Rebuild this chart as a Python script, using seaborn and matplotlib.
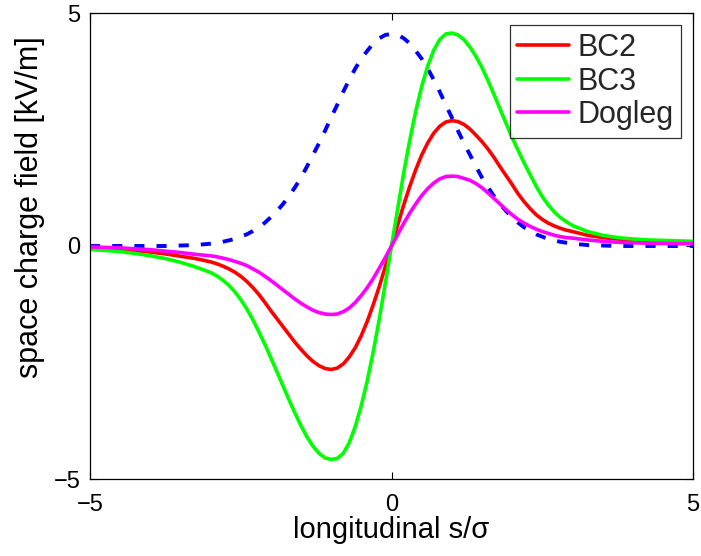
import matplotlib
matplotlib.use("Agg")
import matplotlib.pyplot as plt
import seaborn as sns
import pandas as pd

s = [-5.0, -4.75, -4.5, -4.25, -4.0, -3.75, -3.5, -3.25,
     -3.0, -2.9, -2.8, -2.7, -2.6, -2.5, -2.4, -2.3, -2.2, -2.1,
     -2.0, -1.9, -1.8, -1.7, -1.6, -1.5, -1.4, -1.3, -1.2, -1.1,
     -1.0, -0.9, -0.8, -0.7, -0.6, -0.5, -0.4, -0.3, -0.2, -0.1,
     0.0, 0.1, 0.2, 0.3, 0.4, 0.5, 0.6, 0.7, 0.8, 0.9,
     1.0, 1.1, 1.2, 1.3, 1.4, 1.5, 1.6, 1.7, 1.8, 1.9,
     2.0, 2.1, 2.2, 2.3, 2.4, 2.5, 2.6, 2.7, 2.8, 2.9,
     3.0, 3.25, 3.5, 3.75, 4.0, 4.25, 4.5, 4.75, 5.0]

bunch = [0.0, 0.0, 0.0, 0.0, 0.0, 0.0, 0.01, 0.02,
         0.05, 0.07, 0.09, 0.12, 0.15, 0.20, 0.25, 0.32, 0.40, 0.50,
         0.62, 0.75, 0.90, 1.07, 1.26, 1.47, 1.71, 1.96, 2.21, 2.48,
         2.76, 3.03, 3.31, 3.57, 3.81, 4.02, 4.19, 4.35, 4.46, 4.53,
         4.55, 4.53, 4.46, 4.35, 4.19, 4.02, 3.81, 3.57, 3.31, 3.03,
         2.76, 2.48, 2.21, 1.96, 1.71, 1.47, 1.26, 1.07, 0.90, 0.75,
         0.62, 0.50, 0.40, 0.32, 0.25, 0.20, 0.15, 0.12, 0.09, 0.07,
         0.05, 0.02, 0.01, 0.0, 0.0, 0.0, 0.0, 0.0, 0.0]

bc2 = [-0.04, -0.05, -0.07, -0.10, -0.13, -0.17, -0.22, -0.27,
       -0.34, -0.38, -0.43, -0.49, -0.56, -0.65, -0.76, -0.89, -1.04, -1.21,
       -1.39, -1.56, -1.73, -1.90, -2.07, -2.22, -2.36, -2.48, -2.57, -2.63,
       -2.65, -2.62, -2.53, -2.38, -2.18, -1.92, -1.61, -1.25, -0.86, -0.43,
       0.0, 0.44, 0.87, 1.27, 1.63, 1.95, 2.21, 2.42, 2.57, 2.66,
       2.69, 2.67, 2.61, 2.51, 2.38, 2.24, 2.08, 1.90, 1.70, 1.51,
       1.32, 1.12, 0.95, 0.80, 0.67, 0.57, 0.49, 0.43, 0.38, 0.34,
       0.31, 0.23, 0.18, 0.15, 0.13, 0.11, 0.10, 0.09, 0.08]

bc3 = [-0.075, -0.095, -0.12, -0.16, -0.21, -0.27, -0.35, -0.45,
       -0.57, -0.64, -0.73, -0.84, -0.98, -1.15, -1.35, -1.58, -1.84, -2.11,
       -2.40, -2.70, -3.00, -3.30, -3.59, -3.86, -4.10, -4.30, -4.45, -4.55,
       -4.58, -4.56, -4.45, -4.22, -3.87, -3.42, -2.88, -2.25, -1.55, -0.78,
       0.0, 0.78, 1.55, 2.25, 2.88, 3.42, 3.86, 4.20, 4.43, 4.55,
       4.57, 4.53, 4.43, 4.27, 4.07, 3.83, 3.55, 3.25, 2.94, 2.63,
       2.33, 2.05, 1.78, 1.53, 1.28, 1.06, 0.88, 0.73, 0.61, 0.52,
       0.44, 0.31, 0.23, 0.18, 0.15, 0.13, 0.12, 0.11, 0.10]

dogleg = [-0.02, -0.03, -0.04, -0.06, -0.08, -0.11, -0.14, -0.18,
          -0.21, -0.23, -0.26, -0.29, -0.33, -0.37, -0.42, -0.49, -0.56, -0.65,
          -0.74, -0.84, -0.94, -1.04, -1.14, -1.23, -1.31, -1.38, -1.43, -1.46,
          -1.47, -1.46, -1.41, -1.33, -1.21, -1.06, -0.89, -0.69, -0.47, -0.24,
          0.0, 0.24, 0.48, 0.70, 0.90, 1.08, 1.23, 1.35, 1.44, 1.49,
          1.50, 1.49, 1.45, 1.41, 1.34, 1.25, 1.14, 1.02, 0.90, 0.78,
          0.67, 0.57, 0.49, 0.42, 0.36, 0.31, 0.27, 0.23, 0.20, 0.18,
          0.17, 0.13, 0.10, 0.08, 0.07, 0.06, 0.055, 0.05, 0.05]

labels = ["BC2", "BC3", "Dogleg"]
colors = ["#ff0000", "#00ff00", "#ff00ff"]
tick_vals = [-5, 0, 5]
tick_text = ["\u22125", "0", "5"]

sns.set_theme(style="white")
plt.rcParams['font.family'] = ['Liberation Sans', 'DejaVu Sans']

fig = plt.figure(figsize=(7.01, 5.56), dpi=100)
ax = fig.add_axes([90/701, 1 - 479/556, (693-90)/701, (479-13)/556])

df = pd.DataFrame({"s": s, "bunch": bunch, "BC2": bc2, "BC3": bc3, "Dogleg": dogleg})

sns.lineplot(data=df, x="s", y="bunch", ax=ax, color="#0000ff", linewidth=2.8,
             legend=False, estimator=None)
ax.lines[-1].set_dashes((2.6, 3.1))
for lab, col in zip(labels, colors):
    sns.lineplot(data=df, x="s", y=lab, ax=ax, color=col, linewidth=2.6, label=lab, estimator=None)

ax.set_xlim(-5, 5)
ax.set_ylim(-5, 5)
ax.set_xticks(tick_vals)
ax.set_yticks(tick_vals)
ax.set_xticklabels(tick_text)
ax.set_yticklabels(tick_text)
ax.tick_params(direction="in", length=5, width=0.8, top=True, right=True,
               labelsize=17, colors="black", bottom=True, left=True)
ax.tick_params(axis="x", pad=11)
ax.tick_params(axis="y", pad=7)
for sp in ax.spines.values():
    sp.set_color("black")
    sp.set_linewidth(0.9)
    sp.set_visible(True)

ax.set_xlabel("longitudinal s/\u03c3", fontsize=21, color="black", labelpad=0)
ax.set_ylabel("space charge field [kV/m]", fontsize=22, color="black")
ax.yaxis.set_label_coords(-0.075, 0.584)

leg = ax.legend(loc="upper right", fontsize=22, frameon=True, fancybox=False,
                edgecolor="black", handlelength=1.7, handletextpad=0.25,
                labelspacing=0.12, borderpad=0.25, borderaxespad=0.4)
leg.get_frame().set_linewidth(0.9)

fig.savefig("out.png", dpi=100)
